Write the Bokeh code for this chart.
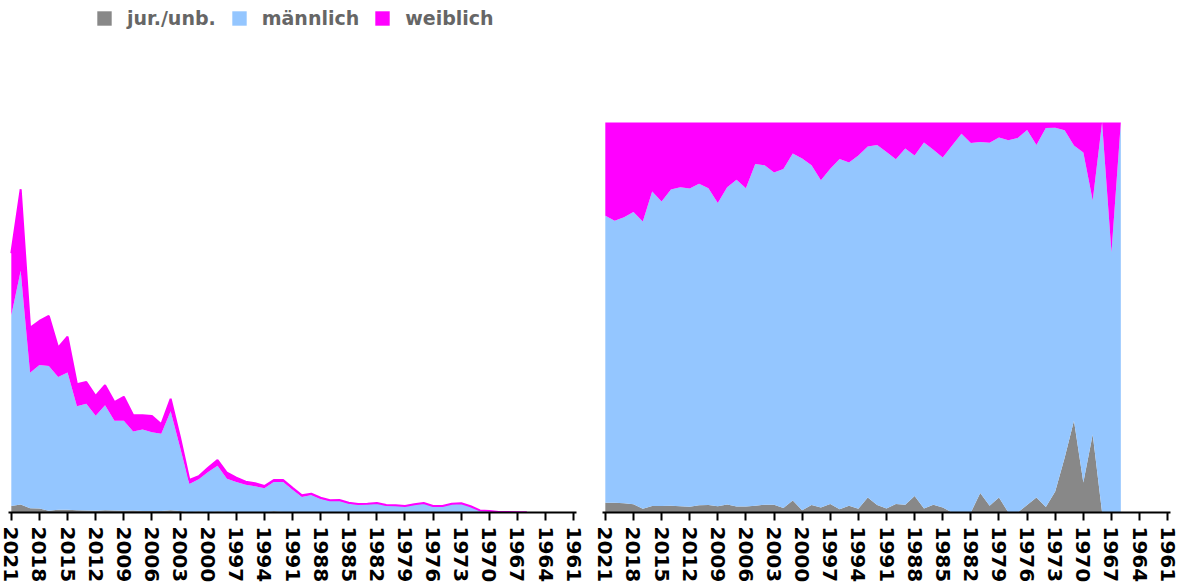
import numpy as np
from bokeh.plotting import figure
from bokeh.models import ColumnDataSource, Range1d, FixedTicker, Legend, LegendItem
from bokeh.core.properties import value
from bokeh.layouts import row
from bokeh.embed import file_html
from bokeh.resources import INLINE

years = list(range(2021, 1965, -1))
jur = [52, 65, 35, 32, 15, 22, 23, 18, 17, 14, 19, 17, 15, 16, 12, 12, 12, 18, 12, 3,
       9, 2, 8, 4, 6, 2, 4, 2, 10, 5, 2, 3, 3, 5, 1, 2, 1, 0, 0, 0,
       3, 1, 2, 0, 0, 1, 2, 1, 4, 7, 4, 1, 1, 0, 0, 0]
male = [1526, 1869, 1084, 1148, 1158, 1063, 1098, 832, 854, 760, 839, 718, 720, 633, 652, 630, 619, 792, 511, 226,
        258, 323, 366, 267, 239, 221, 206, 192, 234, 240, 181, 122, 137, 103, 92, 91, 70, 64, 68, 72,
        54, 54, 48, 63, 73, 50, 47, 68, 69, 42, 12, 11, 3, 4, 2, 2]
female = [496, 652, 359, 352, 399, 233, 285, 176, 173, 158, 160, 149, 191, 129, 114, 130, 75, 100, 77, 31,
          23, 33, 46, 47, 33, 23, 24, 18, 16, 15, 15, 13, 10, 10, 5, 7, 7, 4, 2, 4,
          3, 3, 2, 3, 3, 1, 3, 1, 1, 1, 1, 1, 1, 0, 1, 0]
tick_years = list(range(2021, 1960, -3))
labels = ["jur./unb.", "männlich", "weiblich"]
colors = ["#888888", "#94C6FF", "#FF00FF"]

j = np.array(jur, dtype=float)
m = np.array(male, dtype=float)
f = np.array(female, dtype=float)
tot = j + m + f

src = ColumnDataSource(dict(
    year=years, jur=j, male=m, female=f, total=tot,
    jur_s=j / tot, male_s=m / tot, female_s=f / tot,
))

FONT = "DejaVu Sans"
FRAME_H = 512          # both frames run from the top of the canvas to the axis
SHARE_H = 390          # pixel height of 100 % in the right panel


def style_axis(p):
    p.xaxis.ticker = FixedTicker(ticks=tick_years)
    p.xaxis.major_label_orientation = "vertical"
    p.xaxis.major_label_text_font = FONT
    p.xaxis.major_label_text_font_style = "bold"
    p.xaxis.major_label_text_font_size = "20px"
    p.xaxis.major_label_text_color = "#000000"
    p.xaxis.major_label_standoff = 6
    p.xaxis.major_tick_in = 0
    p.xaxis.major_tick_out = 8
    p.xaxis.major_tick_line_width = 2
    p.xaxis.major_tick_line_color = "#000000"
    p.xaxis.minor_tick_line_color = None
    p.xaxis.axis_line_width = 2
    p.xaxis.axis_line_color = "#000000"
    p.yaxis.visible = False
    p.xgrid.visible = False
    p.ygrid.visible = False
    p.outline_line_color = None


p1 = figure(width=594, height=585, output_backend="svg", toolbar_location=None,
            x_range=Range1d(2021.3, 1960.7), y_range=Range1d(0, FRAME_H * 8),
            min_border_left=8, min_border_right=18, min_border_top=0, min_border_bottom=73)
r1 = p1.varea_stack(["jur", "male", "female"], x="year", color=colors, source=src)
p1.line(x="year", y="total", source=src, color="#FF00FF", line_width=2)
style_axis(p1)

legend = Legend(items=[LegendItem(label=value(labels[i]), renderers=[r1[i]]) for i in range(3)],
                orientation="horizontal", location=(87, FRAME_H - 29),
                padding=0, margin=0, spacing=14, label_standoff=14,
                glyph_width=18, glyph_height=18, label_height=18,
                label_text_font=FONT, label_text_font_style="bold",
                label_text_font_size="19px", label_text_color="#666666",
                border_line_color=None, background_fill_alpha=0)
p1.add_layout(legend)

p2 = figure(width=596, height=585, output_backend="svg", toolbar_location=None,
            x_range=Range1d(2021.3, 1960.7), y_range=Range1d(0, FRAME_H / SHARE_H),
            min_border_left=8, min_border_right=20, min_border_top=0, min_border_bottom=73)
p2.varea_stack(["jur_s", "male_s", "female_s"], x="year", color=colors, source=src)
style_axis(p2)

layout = row(p1, p2, spacing=0)
open("out.html", "w").write(file_html(layout, INLINE))
